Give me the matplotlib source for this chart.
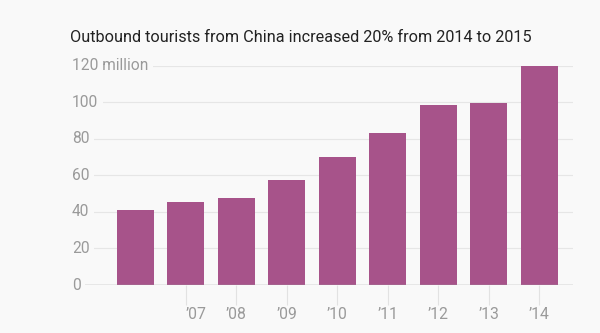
import matplotlib.pyplot as plt

# data (millions of outbound trips)
bar_labels = ["", "’07", "’08", "’09", "’10", "’11", "’12", "’13", "’14"]
values = [40.9, 45.6, 47.6, 57.2, 70.1, 83.1, 98.3, 99.8, 120.0]
y_ticks = [0, 20, 40, 60, 80, 100, 120]
y_tick_labels = ["0", "20", "40", "60", "80", "100", "120 million"]

bg = "#f9f9f9"
bar_color = "#a7538a"
plt.rcParams["font.family"] = ["Roboto", "DejaVu Sans"]

W, H = 600, 333
fig = plt.figure(figsize=(W / 100, H / 100), dpi=100, facecolor=bg)

# axes placed in pixel coords: left edge at the y labels, bottom at the zero line
left, right, top, bottom = 72, 573, 65.7, 285
ax = fig.add_axes([left / W, 1 - bottom / H, (right - left) / W, (bottom - top) / H])
ax.set_facecolor(bg)

x = list(range(len(values)))
ax.bar(x, values, width=0.73, color=bar_color, zorder=3)

# 1 unit on x = 50.5 px, first bar centre at 135.2 px
ax.set_xlim((left - 135.2) / 50.5, (right - 135.2) / 50.5)
ax.set_ylim(0, 120)

for s in ax.spines.values():
    s.set_visible(False)

# gridlines + labels sitting on top of them
for v, lab in zip(y_ticks, y_tick_labels):
    if v == 0:
        ax.axhline(0, color="#a0a0a0", lw=1.0, zorder=4)
    else:
        ax.axhline(v, color="#e6e6e6", lw=0.8, zorder=1)
    ax.text(0, v, lab, transform=ax.get_yaxis_transform(), ha="left", va="center",
            fontsize=11.2, color="#9a9a9a", zorder=5,
            bbox=dict(boxstyle="square,pad=0.3", fc=bg, ec="none"))
ax.set_yticks([])

ax.set_xticks(x[1:])
ax.set_xticklabels(bar_labels[1:], fontsize=11.3, color="#9a9a9a")
ax.tick_params(axis="x", length=14.5, width=0.8, color="#e2e2e2", pad=1.5)
# in the original the first year label starts at its tick
ax.get_xticklabels()[0].set_horizontalalignment("left")

fig.text(70 / W, 1 - 38 / H, "Outbound tourists from China increased 20% from 2014 to 2015",
         ha="left", va="center", fontsize=11.7, color="#222222")

fig.savefig("out.png", dpi=100, facecolor=bg)
